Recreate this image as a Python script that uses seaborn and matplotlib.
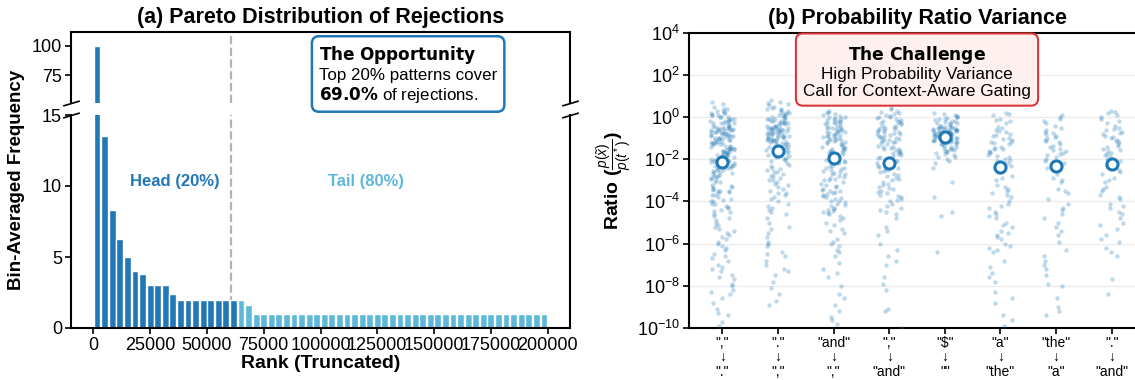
import numpy as np
import pandas as pd
import matplotlib
matplotlib.use("Agg")
import matplotlib.pyplot as plt
from matplotlib.ticker import FixedLocator, NullLocator
import seaborn as sns

sns.set_style("ticks")
plt.rcParams.update({
    "font.family": ["Liberation Sans", "DejaVu Sans"],
    "mathtext.fontset": "custom",
    "mathtext.rm": "Liberation Sans",
    "mathtext.it": "Liberation Sans:italic",
    "mathtext.bf": "Liberation Sans:bold",
    "axes.linewidth": 1.5,
    "axes.edgecolor": "black",
    "text.color": "black",
    "axes.labelcolor": "black",
    "xtick.major.width": 1.2,
    "ytick.major.width": 1.2,
    "xtick.major.size": 4,
    "ytick.major.size": 4,
    "xtick.color": "black",
    "ytick.color": "black",
})

HEAD_C = "#2277b6"
TAIL_C = "#5db8da"
PT_C = "#1f77b4"

# ---- (a) bin-averaged rejection frequency, 60 bins over ranks 0..200000
bin_freq = [100, 13.5, 8.3, 6.25, 5.0, 4.0, 3.8, 3.0, 3.0, 3.0, 2.4,
            2.0, 2.0, 2.0, 2.0, 2.0, 2.0, 2.0, 2.0,
            2.0, 1.6,
            1.0, 1.0, 1.0, 1.0, 1.0, 1.0, 1.0, 1.0, 1.0, 1.0,
            1.0, 1.0, 1.0, 1.0, 1.0, 1.0, 1.0, 1.0, 1.0, 1.0,
            1.0, 1.0, 1.0, 1.0, 1.0, 1.0, 1.0, 1.0, 1.0, 1.0,
            1.0, 1.0, 1.0, 1.0, 1.0, 1.0, 1.0, 1.0, 1.0]
n_head_bins = 19
max_rank = 200000
head_cut = 60600

# ---- (b) log10 probability ratios per substitution pattern
pairs = ['","\n↓\n"."', '"."\n↓\n","', '"and"\n↓\n","', '","\n↓\n"and"',
         '"$"\n↓\n""', '"a"\n↓\n"the"', '"the"\n↓\n"a"', '"."\n↓\n"and"']

r_comma_period = [0.7, 0.5, 0.4, 0.3, 0.2, 0.2, 0.1, 0.1, 0.0, 0.0, -0.1, -0.1,
    -0.2, -0.2, -0.3, -0.3, -0.3, -0.4, -0.4, -0.4, -0.5, -0.5, -0.5, -0.5, -0.6, -0.6,
    -0.6, -0.6, -0.7, -0.7, -0.7, -0.8, -0.8, -0.8, -0.9, -0.9, -0.9, -1.0, -1.0,
    -1.0, -1.1, -1.1, -1.1, -1.2, -1.2, -1.2, -1.3, -1.3, -1.3, -1.4, -1.4, -1.4, -1.5,
    -1.5, -1.5, -1.6, -1.6, -1.6, -1.7, -1.7, -1.8, -1.8, -1.8, -1.9, -1.9, -2.0, -2.0,
    -2.1, -2.1, -2.2, -2.2, -2.3, -2.3, -2.4, -2.4, -2.5, -2.5, -2.6, -2.6, -2.7, -2.8,
    -2.8, -2.9, -3.0, -3.1, -3.2, -3.3, -3.3, -3.4, -3.5, -3.6, -3.7, -3.8, -3.9, -4.0,
    -4.0, -4.1, -4.2, -4.3, -4.4, -4.5, -4.6, -4.8, -4.9, -5.0, -5.1, -5.3, -5.4, -5.6,
    -5.7, -5.9, -6.0, -6.2, -6.3, -6.5, -6.7, -6.8, -7.0, -7.2, -7.3, -7.5, -7.7, -7.9,
    -8.0, -8.2, -8.4, -8.6, -8.8, -9.1, -9.4, -9.7, -9.9,
    0.6, 0.4, 0.3, 0.2, 0.1, 0.0, -0.1, -0.2, -0.2, -0.3, -0.35, -0.45, -0.5, -0.55,
    -0.6, -0.65, -0.7, -0.75, -0.8, -0.85, -0.9, -0.95, -1.0, -1.05, -1.15, -1.25,
    -1.3, -1.35, -1.45, -1.5, -1.55, -1.65, -1.7, -1.75, -1.85, -1.9, -1.95, -2.05,
    -2.1, -2.15, -2.25, -2.3, -2.35, -2.45, -2.55, -2.65, -2.75, -2.85, -2.95, -3.1,
    -3.25, -3.45, -3.5, -3.5, -3.55, -3.7, -3.95, -4.1, -4.25, -4.45, -4.7, -5.2, -5.5,
    -5.8, -6.1, -6.6, -7.1, -7.6, -8.3, -9.3]
r_period_comma = [0.8, 0.7, 0.6, 0.5, 0.4, 0.4, 0.3, 0.2, 0.2, 0.1, 0.1, 0.0, 0.0,
    -0.1, -0.1, -0.1, -0.2, -0.2, -0.2, -0.3, -0.3, -0.3, -0.3, -0.4, -0.4, -0.4, -0.4,
    -0.5, -0.5, -0.5, -0.5, -0.6, -0.6, -0.6, -0.6, -0.7, -0.7, -0.7, -0.8, -0.8, -0.8,
    -0.9, -0.9, -0.9, -1.0, -1.0, -1.0, -1.1, -1.1, -1.1, -1.2, -1.2, -1.3, -1.3, -1.3,
    -1.4, -1.4, -1.5, -1.5, -1.6, -1.6, -1.7, -1.8, -1.9, -2.0, -2.1, -2.2, -2.3, -2.4,
    -2.5, -2.6, -2.7, -2.8, -2.9, -3.0, -3.1, -3.2, -3.3, -3.5, -3.6, -3.7, -3.9, -4.0,
    -4.1, -4.3, -4.4, -4.6, -4.8, -5.0, -5.2, -5.5, -5.7, -6.0, -6.1, -6.4, -6.6, -6.8,
    -7.0, -7.3, -7.5, -7.8, -8.1, -8.7, -8.9,
    0.65, 0.55, 0.45, 0.35, 0.25, 0.15, 0.05, -0.05, -0.15, -0.25, -0.35, -0.45, -0.5,
    -0.55, -0.6, -0.65, -0.7, -0.75, -0.8, -0.85, -0.9, -0.95, -1.0, -1.05, -1.1, -1.15,
    -1.2, -1.25, -1.35, -1.45, -1.55, -1.65, -1.75, -1.85, -1.95, -2.05, -2.25, -2.45,
    -2.6, -2.8, -3.0, -3.15, -3.4, -3.6, -3.8, -4.2, -4.5, -5.3, -5.9, -6.5, -7.2, -8.4]
r_and_comma = [0.3, 0.2, 0.1, 0.0, 0.0, -0.1, -0.1, -0.2, -0.2, -0.3, -0.3, -0.3,
    -0.4, -0.4, -0.5, -0.5, -0.5, -0.6, -0.6, -0.7, -0.7, -0.7, -0.8, -0.8, -0.9, -0.9,
    -0.9, -1.0, -1.0, -1.1, -1.1, -1.1, -1.2, -1.2, -1.3, -1.3, -1.4, -1.4, -1.5, -1.5,
    -1.6, -1.6, -1.7, -1.7, -1.8, -1.8, -1.9, -2.0, -2.0, -2.1, -2.2, -2.2, -2.3, -2.4,
    -2.4, -2.5, -2.6, -2.7, -2.7, -2.8, -2.9, -3.0, -3.0, -3.1, -3.2, -3.3, -3.4, -3.5,
    -3.5, -3.6, -3.7, -3.8, -3.9, -4.0, -4.0, -4.1, -4.2, -4.3, -4.4, -4.5, -4.6, -4.8,
    -4.9, -5.1, -5.3, -5.5, -5.8, -6.0, -6.1, -6.3, -6.6, -6.9, -7.2, -7.6, -8.0, -8.4,
    -8.9, -9.2, -9.5, -9.8,
    0.25, 0.15, 0.05, -0.05, -0.15, -0.25, -0.35, -0.45, -0.55, -0.65, -0.75, -0.85,
    -0.95, -1.05, -1.15, -1.25, -1.35, -1.45, -1.55, -1.65, -1.75, -1.85, -1.95, -2.05,
    -2.15, -2.3, -2.45, -2.55, -2.65, -2.85, -2.95, -3.15, -3.25, -3.45, -3.55, -3.65,
    -3.75, -3.85, -4.05, -4.15, -4.35, -4.45, -4.55, -4.7, -5.0, -5.4, -5.9, -6.4, -7.4,
    -8.6, -9.6]
r_comma_and = [0.4, 0.3, 0.2, 0.1, 0.0, 0.0, -0.1, -0.2, -0.2, -0.3, -0.3, -0.4,
    -0.4, -0.5, -0.5, -0.6, -0.6, -0.7, -0.7, -0.8, -0.8, -0.9, -0.9, -1.0, -1.0, -1.1,
    -1.1, -1.2, -1.2, -1.3, -1.4, -1.4, -1.5, -1.5, -1.6, -1.7, -1.7, -1.8, -1.9, -2.0,
    -2.0, -2.1, -2.2, -2.3, -2.4, -2.5, -2.6, -2.7, -2.8, -2.9, -3.0, -3.1, -3.2, -3.3,
    -3.4, -3.5, -3.6, -3.7, -3.8, -3.9, -4.0, -4.1, -4.3, -4.5, -4.8, -5.2, -5.6, -6.0,
    -6.3, -6.6, -7.0, -7.6, -7.9, -9.1, -9.2, -10.0,
    0.45, 0.25, 0.15, 0.05, -0.05, -0.15, -0.25, -0.35, -0.45, -0.55, -0.65, -0.75,
    -0.85, -0.95, -1.05, -1.15, -1.25, -1.35, -1.45, -1.55, -1.65, -1.75, -1.85, -1.95,
    -2.1, -2.25, -2.35, -2.45, -2.55, -2.75, -2.95, -3.15, -3.35, -3.55, -3.75, -3.95,
    -4.2, -4.4, -4.6, -5.4, -6.8, -8.2]
r_dollar_empty = [0.2, 0.1, 0.0, 0.0, -0.1, -0.1, -0.2, -0.2, -0.3, -0.3, -0.3, -0.4,
    -0.4, -0.4, -0.5, -0.5, -0.5, -0.5, -0.6, -0.6, -0.6, -0.6, -0.7, -0.7, -0.7, -0.7,
    -0.8, -0.8, -0.8, -0.8, -0.9, -0.9, -0.9, -0.9, -1.0, -1.0, -1.0, -1.0, -1.1, -1.1,
    -1.1, -1.1, -1.2, -1.2, -1.2, -1.3, -1.3, -1.3, -1.4, -1.4, -1.5, -1.5, -1.6, -1.6,
    -1.7, -1.8, -1.9, -2.0, -2.2, -2.4, -3.1, -3.8, -4.5, -4.7, -6.4,
    0.15, 0.05, -0.05, -0.15, -0.25, -0.35, -0.45, -0.5, -0.55, -0.6, -0.65, -0.7,
    -0.75, -0.8, -0.85, -0.9, -0.95, -1.0, -1.05, -1.1, -1.15, -1.2, -1.25, -1.35,
    -1.45, -1.55, -1.65, -1.75, -1.9, -2.1, -0.65, -0.75, -0.85, -0.95, -1.05, -0.55,
    -1.25, -0.45]
r_a_the = [0.2, 0.1, -0.1, -0.2, -0.3, -0.5, -0.6, -0.7, -0.8, -0.9, -1.0, -1.1,
    -1.2, -1.2, -1.3, -1.4, -1.5, -1.5, -1.6, -1.7, -1.8, -1.9, -2.0, -2.1, -2.2, -2.4,
    -2.6, -2.8, -3.0, -3.2, -3.4, -3.5, -3.6, -3.8, -4.0, -4.1, -4.3, -4.5, -4.7, -4.8,
    -5.0, -5.2, -5.4, -5.6, -5.7, -5.8, -6.0, -6.2, -6.4, -6.8, -7.1, -7.4, -7.8, -8.3,
    -8.8, -9.4, -9.6, -9.9,
    0.15, -0.15, -0.45, -0.65, -0.85, -1.05, -1.25, -1.45, -1.65, -1.85, -2.05, -2.3,
    -2.9, -3.3, -3.7, -4.2, -4.6, -5.1, -5.5, -6.1, -6.3, -7.6, -8.6]
r_the_a = [0.1, 0.0, -0.2, -0.3, -0.4, -0.6, -0.7, -0.8, -0.9, -1.0, -1.1, -1.2,
    -1.3, -1.4, -1.5, -1.6, -1.7, -1.8, -1.9, -2.0, -2.2, -2.5, -2.7, -2.9, -3.1, -3.4,
    -3.6, -3.9, -4.1, -4.3, -4.6, -4.8, -5.2, -5.6, -5.9, -6.3, -6.6, -7.0, -7.2, -7.5,
    -8.0, -8.6, -9.0, -9.4,
    -0.1, -0.5, -0.75, -0.95, -1.15, -1.35, -1.55, -1.75, -2.1, -2.4, -3.0, -3.5,
    -4.4, -5.0, -5.4, -6.8, -7.9, -9.2]
r_period_and = [0.3, 0.2, 0.1, -0.1, -0.2, -0.4, -0.5, -0.6, -0.7, -0.8, -0.9, -1.0,
    -1.1, -1.2, -1.3, -1.4, -1.5, -1.6, -1.7, -1.8, -2.0, -2.1, -2.3, -2.5, -2.7, -2.9,
    -3.1, -3.3, -3.5, -3.7, -3.9, -4.1, -4.3, -4.5, -4.8, -5.1, -5.3, -5.6, -5.9, -6.2,
    -6.6, -7.7, -8.4,
    0.25, 0.0, -0.3, -0.55, -0.75, -0.95, -1.15, -1.35, -1.55, -1.75, -1.9, -2.2,
    -2.6, -3.0, -3.4, -3.8, -4.2, -4.6, -5.0, -5.8, -6.4]
mean_ratio = [7.8e-3, 2.6e-2, 1.1e-2, 6.9e-3, 1.15e-1, 4.1e-3, 5.0e-3, 6.0e-3]

groups = [r_comma_period, r_period_comma, r_and_comma, r_comma_and,
          r_dollar_empty, r_a_the, r_the_a, r_period_and]
strip_df = pd.DataFrame({
    "pair": [p for p, g in zip(pairs, groups) for _ in g],
    "ratio": [10.0 ** v for g in groups for v in g],
})

bin_w = max_rank / len(bin_freq)
bar_df = pd.DataFrame({
    "rank": (np.arange(len(bin_freq)) + 0.5) * bin_w,
    "freq": bin_freq,
    "part": ["Head"] * n_head_bins + ["Tail"] * (len(bin_freq) - n_head_bins),
})

W, H = 1135, 380
fig = plt.figure(figsize=(W / 100, H / 100), dpi=100)


def frac(x0, y0, x1, y1):
    return [x0 / W, 1 - y1 / H, (x1 - x0) / W, (y1 - y0) / H]


ax_top = fig.add_axes(frac(71, 32.3, 570, 103.3))
ax_bot = fig.add_axes(frac(71, 115, 570, 328), sharex=ax_top)

for ax in (ax_top, ax_bot):
    sns.barplot(data=bar_df, x="rank", y="freq", hue="part",
                palette={"Head": HEAD_C, "Tail": TAIL_C}, native_scale=True,
                width=0.9, dodge=False, errorbar=None, legend=False,
                saturation=1, ax=ax)
    ax.axvline(head_cut, color="#b3b3b3", ls="--", lw=1.6, zorder=0)
    ax.set_xlabel("")
    ax.set_ylabel("")

ax_top.set_ylim(51, 111.5)
ax_top.set_yticks([75, 100])
ax_top.spines["bottom"].set_visible(False)
ax_top.tick_params(axis="x", bottom=False, labelbottom=False)
ax_bot.set_ylim(0, 15)
ax_bot.set_yticks([0, 5, 10, 15])
ax_bot.spines["top"].set_visible(False)
ax_bot.set_xticks(np.arange(0, 200001, 25000))
ax_bot.set_xticklabels([str(v) for v in range(0, 200001, 25000)])
for ax in (ax_top, ax_bot):
    ax.tick_params(labelsize=13, pad=2.5)

kw = dict(marker=[(-1, -0.3), (1, 0.3)], markersize=12, linestyle="none",
          color="k", mec="k", mew=1.2, clip_on=False)
ax_top.plot([0, 1], [0, 0], transform=ax_top.transAxes, **kw)
ax_bot.plot([0, 1], [1, 1], transform=ax_bot.transAxes, **kw)

ax_top.set_title("(a) Pareto Distribution of Rejections", fontsize=15.5,
                 fontweight="bold", pad=6.5)
ax_bot.set_xlabel("Rank (Truncated)", fontsize=14, fontweight="bold", labelpad=1)
fig.text(17 / W, 1 - 180 / H, "Bin-Averaged Frequency", rotation=90,
         ha="center", va="center", fontsize=13.5, fontweight="bold")

ax_bot.text(36000, 10.3, "Head (20%)", color=HEAD_C, fontsize=12,
            fontweight="bold", ha="center", va="center")
ax_bot.text(120000, 10.3, "Tail (80%)", color=TAIL_C, fontsize=12,
            fontweight="bold", ha="center", va="center")

ax_top.text(0.497, 0.83,
            r"$\mathbf{The\ Opportunity}$" + "\nTop 20% patterns cover\n"
            + r"$\mathbf{69.0\%}$ of rejections.",
            transform=ax_top.transAxes, ha="left", va="top", fontsize=12.2,
            math_fontfamily="dejavusans", zorder=10, linespacing=1.12,
            bbox=dict(boxstyle="round,pad=0.42", fc="white", ec=PT_C, lw=1.8))

# ---- (b)
ax_r = fig.add_axes(frac(689, 32.7, 1145, 328))
ax_r.set_yscale("log")
sns.stripplot(data=strip_df, x="pair", y="ratio", order=pairs, color=PT_C,
              alpha=0.28, size=3.2, jitter=0.22, linewidth=0, ax=ax_r)
sns.stripplot(x=pairs, y=mean_ratio, order=pairs, jitter=False, color="white",
              edgecolor=PT_C, linewidth=2.2, size=8, ax=ax_r, zorder=5)
ax_r.set_xlim(-0.6, 7.6)
ax_r.set_ylim(1e-10, 1e4)
ax_r.yaxis.set_major_locator(FixedLocator([10.0 ** k for k in range(-10, 5, 2)]))
ax_r.yaxis.set_minor_locator(NullLocator())
ax_r.grid(axis="y", color="#ececec", lw=1)
ax_r.set_axisbelow(True)
ax_r.tick_params(axis="y", labelsize=13, pad=2.5)
ax_r.tick_params(axis="x", labelsize=10, pad=1.5)
for lab in ax_r.get_xticklabels():
    lab.set_linespacing(1.05)
ax_r.set_xlabel("")
ax_r.set_ylabel(r"Ratio ($\frac{p(\tilde{x})}{p(t^*)}$)", fontsize=14,
                fontweight="bold", labelpad=2)
ax_r.set_title("(b) Probability Ratio Variance", fontsize=15.5,
               fontweight="bold", pad=6.5)
ax_r.text(0.5, 0.963,
          r"$\mathbf{The\ Challenge}$" + "\nHigh Probability Variance\n"
          "Call for Context-Aware Gating",
          transform=ax_r.transAxes, ha="center", va="top", fontsize=12.3,
          multialignment="center", math_fontfamily="dejavusans", zorder=10,
          linespacing=1.12,
          bbox=dict(boxstyle="round,pad=0.42", fc="#fff0f0", ec="#d8383c", lw=1.5))

fig.savefig("out.png", dpi=100)
